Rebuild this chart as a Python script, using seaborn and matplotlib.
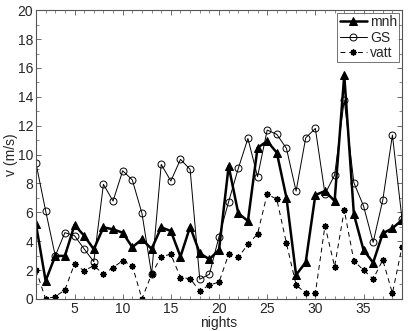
import numpy as np
import pandas as pd
import matplotlib
matplotlib.use("Agg")
import matplotlib.pyplot as plt
import seaborn as sns
from matplotlib.ticker import MultipleLocator

nights = list(range(1, 40))
mnh = [5.17, 1.25, 2.98, 2.98, 5.12, 4.38, 3.44, 4.96, 4.82, 4.59,
       3.58, 4.13, 3.46, 4.96, 4.70, 2.93, 5.00, 3.16, 2.75, 3.40,
       9.20, 5.93, 5.40, 10.47, 10.93, 10.13, 7.01, 1.66, 2.54, 7.20,
       7.47, 6.78, 15.50, 5.86, 3.39, 2.51, 4.54, 4.89, 5.47]
gs = [9.39, 6.11, 2.98, 4.59, 4.38, 3.46, 2.58, 7.94, 6.78, 8.88,
      8.24, 5.93, 1.71, 9.32, 8.17, 9.67, 8.97, 1.36, 1.71, 4.31,
      6.74, 9.04, 11.12, 8.47, 11.70, 11.40, 10.43, 7.47, 11.16, 11.81,
      7.27, 8.58, 13.77, 8.05, 6.44, 3.92, 6.85, 11.35, 5.51]
vatt = [2.00, 0.00, 0.16, 0.62, 2.42, 1.94, 2.31, 1.71, 2.17, 2.65,
        2.30, 0.00, 1.71, 2.93, 3.09, 1.48, 1.40, 0.55, 0.97, 1.16,
        3.09, 2.88, 3.78, 4.50, 7.27, 6.90, 3.85, 0.97, 0.39, 0.39,
        5.07, 2.24, 6.16, 2.63, 2.00, 1.38, 2.70, 0.39, 3.62]
xticks = [5, 10, 15, 20, 25, 30, 35]
yticks = [0, 2, 4, 6, 8, 10, 12, 14, 16, 18, 20]

sns.set_style("white")
plt.rcParams['font.family'] = ['Liberation Sans', 'DejaVu Sans']

df = pd.DataFrame({"nights": nights, "mnh": mnh, "GS": gs, "vatt": vatt})

fig = plt.figure(figsize=(4.09, 3.31), dpi=100)
ax = fig.add_axes([0.088, 0.097, 0.895, 0.872])

sns.lineplot(data=df, x="nights", y="mnh", ax=ax, color="black", linewidth=1.8,
             marker="^", markersize=6, markerfacecolor="black",
             markeredgecolor="black", label="mnh")
sns.lineplot(data=df, x="nights", y="GS", ax=ax, color="black", linewidth=0.7,
             marker="o", markersize=5, markerfacecolor="none",
             markeredgecolor="black", markeredgewidth=0.7, label="GS")
sns.lineplot(data=df, x="nights", y="vatt", ax=ax, color="black", linewidth=0.7,
             linestyle=(0, (5, 4)), marker=(8, 2, 0), markersize=4.5,
             markerfacecolor="black", markeredgecolor="black",
             markeredgewidth=1.0, label="vatt")

ax.set_xlim(1, 39)
ax.set_ylim(0, 20)
ax.set_xticks(xticks)
ax.set_yticks(yticks)
ax.xaxis.set_minor_locator(MultipleLocator(1))
ax.yaxis.set_minor_locator(MultipleLocator(1))
ax.tick_params(which="both", direction="in", top=True, right=True,
               bottom=True, left=True, labelsize=10, color="#555555", pad=2)
ax.tick_params(which="major", length=3.5, width=0.6)
ax.tick_params(which="minor", length=2.5, width=0.5)
for s in ax.spines.values():
    s.set_color("#555555")
    s.set_linewidth(0.8)
ax.set_xlabel("nights", fontsize=10, labelpad=0)
ax.set_ylabel("v (m/s)", fontsize=10, labelpad=0)

leg = ax.legend(loc="upper right", fontsize=10, frameon=True, fancybox=False,
                handlelength=2.0, handletextpad=0.2, borderpad=0.15,
                labelspacing=0.1, borderaxespad=0.2)
leg.get_frame().set_edgecolor("#333333")
leg.get_frame().set_linewidth(0.6)

fig.savefig("out.png", dpi=100)
